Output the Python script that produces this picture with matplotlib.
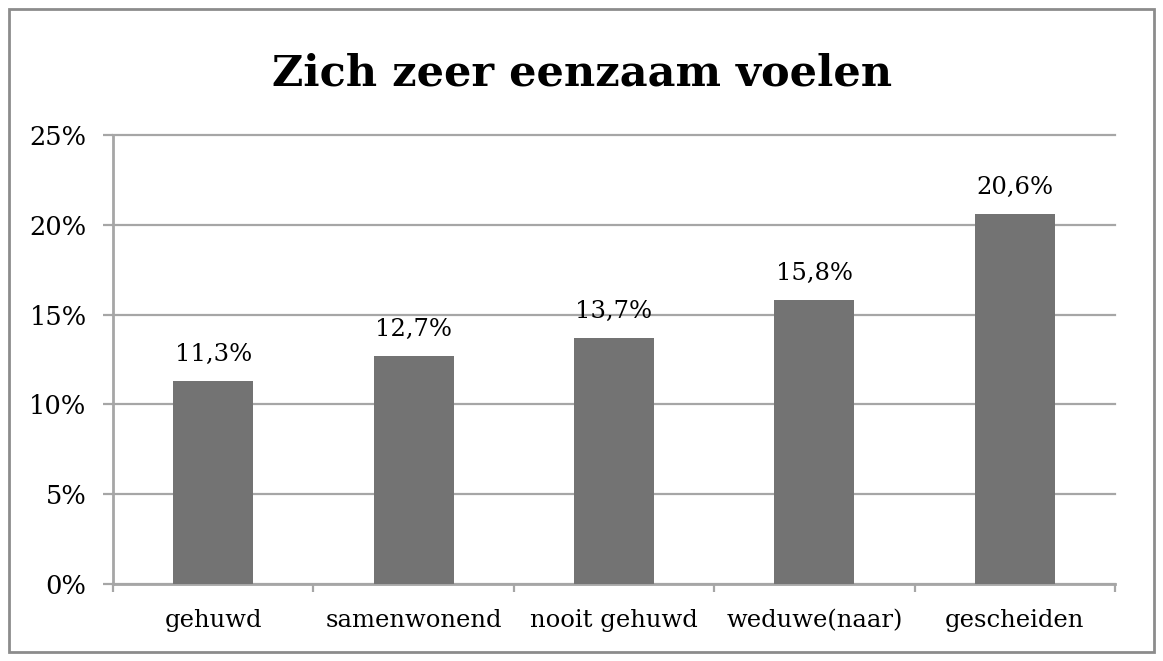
import matplotlib.pyplot as plt
from matplotlib.patches import Rectangle
from matplotlib.ticker import FixedLocator, FuncFormatter

categories = ['gehuwd', 'samenwonend', 'nooit gehuwd', 'weduwe(naar)', 'gescheiden']
values = [11.3, 12.7, 13.7, 15.8, 20.6]
yticks = [0, 5, 10, 15, 20, 25]

plt.rcParams['font.family'] = 'DejaVu Serif'

fig = plt.figure(figsize=(11.63, 6.61), dpi=100)
ax = fig.add_axes([113/1163, 1 - 584/661, (1115-113)/1163, (584-135)/661])

grid_c = '#a6a6a6'
x = list(range(len(categories)))
bars = ax.bar(x, values, width=0.4, color='#737373', zorder=3)

for xi, v in zip(x, values):
	ax.annotate(f"{v:.1f}%".replace('.', ','), (xi, v), xytext=(0, 11),
				textcoords='offset points', ha='center', va='bottom', fontsize=17.5)

ax.set_xlim(-0.5, len(categories) - 0.5)
ax.set_ylim(0, 25)
ax.set_yticks(yticks)
ax.yaxis.set_major_formatter(FuncFormatter(lambda v, p: f"{int(v)}%"))
ax.yaxis.grid(True, color=grid_c, linewidth=1.6, zorder=0)
for gl in ax.get_ygridlines():
	gl.set_clip_on(False)

ax.set_xticks(x)
ax.set_xticklabels(categories)
ax.xaxis.set_minor_locator(FixedLocator([i - 0.5 for i in range(len(categories) + 1)]))
ax.tick_params(axis='x', which='major', length=0, pad=18, labelsize=17.5)
ax.tick_params(axis='x', which='minor', length=6, width=1.6, color=grid_c)
ax.tick_params(axis='y', length=7, width=1.6, color=grid_c, pad=12, labelsize=18.5)

for s in ['top', 'right']:
	ax.spines[s].set_visible(False)
for s in ['left', 'bottom']:
	ax.spines[s].set_color(grid_c)
	ax.spines[s].set_linewidth(2)

fig.text(582/1163, 1 - 73/661, 'Zich zeer eenzaam voelen', ha='center', va='center',
		 fontsize=31, fontweight='bold')

fig.patches.append(Rectangle((9/1163, 9/661), 1145/1163, 643/661, transform=fig.transFigure,
							 fill=False, edgecolor='#8c8c8c', linewidth=2))

fig.savefig('out.png', dpi=100)
